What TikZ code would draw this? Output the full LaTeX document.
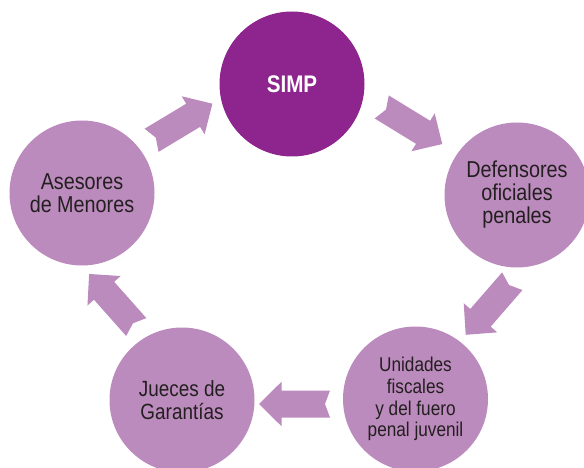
\documentclass[tikz,border=0pt]{standalone}
\usepackage{fontspec}
\setmainfont[FakeStretch=0.86]{Liberation Sans}
\definecolor{lightpurple}{RGB}{188,139,189}
\definecolor{darkpurple}{RGB}{142,37,142}
\definecolor{textdark}{RGB}{35,31,32}
\tikzset{
  stage/.style={circle, minimum size=145pt, inner sep=0pt, fill=lightpurple, text=textdark, align=center},
  hub/.style={stage, fill=darkpurple, text=white, font=\bfseries\fontsize{24}{24}\selectfont},
  blockarrow/.pic={\fill[lightpurple] (-35.5,-13.5) -- (13,-13.5) -- (13,-22.2) -- (35.5,0) -- (13,22.2) -- (13,13.5) -- (-35.5,13.5) -- (-30.5,0) -- cycle;}
}
\begin{document}
\begin{tikzpicture}[x=1pt,y=-1pt]
\useasboundingbox (0,0) rectangle (584,468);
\clip (0,0) rectangle (584,468);
\node[hub] (simp) at (292,84) {SIMP};
\node[stage, font=\fontsize{23}{23}\selectfont] (def) at (517,195) {Defensores\\oficiales\\penales};
\node[stage, font=\fontsize{20}{21.7}\selectfont] (uni) at (415.5,399) {Unidades\\fiscales\\y del fuero\\penal juvenil};
\node[stage, font=\fontsize{22}{22.7}\selectfont] (jue) at (182,400) {Jueces de\\Garantías};
\node[stage, font=\fontsize{23}{23}\selectfont] (ase) at (82,193) {Asesores\\de Menores};
\pic[rotate=31] at (182,122) {blockarrow};
\pic[rotate=-31.5] at (412,125.5) {blockarrow};
\pic[rotate=-131] at (489,308) {blockarrow};
\pic[rotate=180] at (294.5,404) {blockarrow};
\pic[rotate=131.6] at (112.7,300.5) {blockarrow};
\end{tikzpicture}
\end{document}
